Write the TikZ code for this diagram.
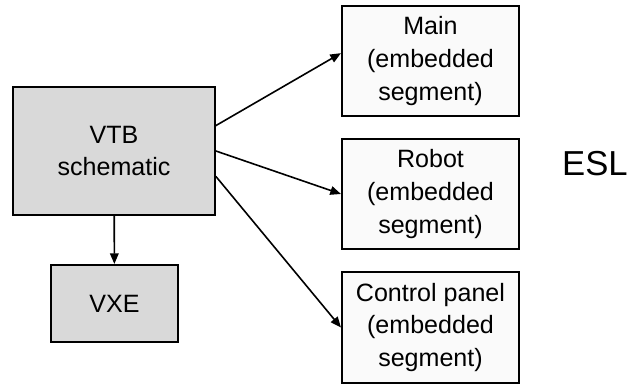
\documentclass[tikz,border=0pt]{standalone}
\usepackage{fontspec}
\setmainfont{Liberation Sans}
\usetikzlibrary{arrows.meta}

\begin{document}
\begin{tikzpicture}[
		x=0.75pt, y=-0.75pt,
		blockbox/.style={
			draw,
			line width=1.3pt,
			align=center,
			inner sep=2pt,
			font=\fontsize{18.8}{24.5}\selectfont,
		},
		segbox/.style={
			blockbox,
			fill=segfill,
			minimum width=133pt,
			minimum height=83pt,
		},
		myedge/.style={
			line width=1.2pt,
			-{Triangle[length=8pt, width=6.5pt]},
		}
	]

		% Couleurs
		\colorlet{toolfill}{black!15}
		\colorlet{segfill}{black!2}

		\useasboundingbox (0,0) rectangle (636,384);

		% Outils (a gauche)
		\node[blockbox, fill=toolfill, minimum width=151.5pt, minimum height=96pt] (vtb) at (114,151) {VTB\\schematic};
		\node[blockbox, fill=toolfill, minimum width=95pt, minimum height=58pt] (vxe) at (114.5,303.5) {VXE};

		% Segments (a droite)
		\node[segbox] (main) at (430.5,61) {Main\\(embedded\\segment)};
		\node[segbox] (robot) at (430.5,194) {Robot\\(embedded\\segment)};
		\node[segbox] (panel) at (430.5,327.5) {Control panel\\(embedded\\segment)};

		\node[font=\fontsize{26}{30}\selectfont] (esl) at (595,164) {ESL};

		% Connexions
		\draw[myedge] (vtb) -- (vxe);
		\draw[myedge] (vtb.14) -- (main.175);
		\draw[myedge] (vtb.east) -- (robot.west);
		\draw[myedge] (vtb.-14) -- (panel.west);

	\end{tikzpicture}
\end{document}
